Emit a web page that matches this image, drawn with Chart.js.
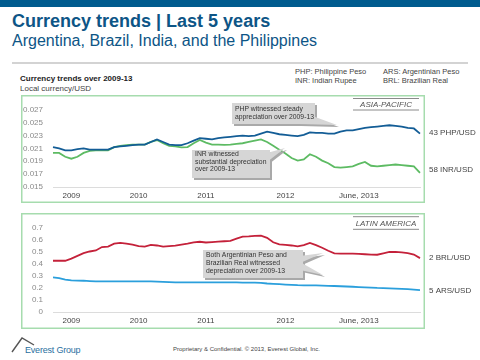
<!DOCTYPE html>
<html><head><meta charset="utf-8">
<script src="https://cdn.jsdelivr.net/npm/chart.js@4/dist/chart.umd.min.js"></script>
<style>
body{margin:0;width:480px;height:360px;position:relative;overflow:hidden;background:#fff;font-family:"Liberation Sans",Arial,sans-serif;}
.abs{position:absolute;white-space:nowrap;line-height:1;}
canvas{position:absolute;}
</style></head><body>
<div class="abs" style="left:0;top:0;width:480px;height:7px;background:#005b8e"></div>
<div class="abs" style="left:12px;top:11.8px;font-size:18px;font-weight:bold;color:#0d5586">Currency trends | Last 5 years</div>
<div class="abs" style="left:12px;top:32.5px;font-size:16px;color:#0d5586">Argentina, Brazil, India, and the Philippines</div>
<div class="abs" style="left:12px;top:62px;width:456px;height:2px;background:#d3d3d3"></div>
<div class="abs" style="left:295px;top:67.6px;font-size:7.5px;color:#444">PHP: Philippine Peso</div>
<div class="abs" style="left:295px;top:76.6px;font-size:7.5px;color:#444">INR: Indian Rupee</div>
<div class="abs" style="left:383px;top:67.6px;font-size:7.5px;color:#444">ARS: Argentinian Peso</div>
<div class="abs" style="left:383px;top:76.6px;font-size:7.5px;color:#444">BRL: Brazilian Real</div>
<div class="abs" style="left:20px;top:74.7px;font-size:8px;font-weight:bold;color:#222">Currency trends over 2009-13</div>
<div class="abs" style="left:20px;top:84.7px;font-size:8px;color:#444">Local currency/USD</div>
<canvas id="c1" width="459" height="108" style="left:21px;top:95px;width:459px;height:108px"></canvas>
<canvas id="c2" width="459" height="116" style="left:21px;top:213px;width:459px;height:116px"></canvas>
<svg class="abs" style="left:0;top:330px" width="60" height="30"><polyline points="12,22 22,8 34,15" fill="none" stroke="#555" stroke-width="1.4"/></svg>
<div class="abs" style="left:25px;top:345.5px;font-size:9px;color:#2a6fa0;letter-spacing:-0.2px">Everest Group</div>
<div class="abs" style="left:173px;top:346.4px;font-size:6px;color:#444">Proprietary &amp; Confidential. © 2013, Everest Global, Inc.</div>
<script>
const categories = ['Oct 2008','Nov 2008','Dec 2008',
'Jan 2009','Feb 2009','Mar 2009','Apr 2009','May 2009','Jun 2009','Jul 2009','Aug 2009','Sep 2009','Oct 2009','Nov 2009','Dec 2009',
'Jan 2010','Feb 2010','Mar 2010','Apr 2010','May 2010','Jun 2010','Jul 2010','Aug 2010','Sep 2010','Oct 2010','Nov 2010','Dec 2010',
'Jan 2011','Feb 2011','Mar 2011','Apr 2011','May 2011','Jun 2011','Jul 2011','Aug 2011','Sep 2011','Oct 2011','Nov 2011','Dec 2011',
'Jan 2012','Feb 2012','Mar 2012','Apr 2012','May 2012','Jun 2012','Jul 2012','Aug 2012','Sep 2012','Oct 2012','Nov 2012','Dec 2012',
'Jan 2013','Feb 2013','Mar 2013','Apr 2013','May 2013','Jun 2013','Jul 2013','Aug 2013','Sep 2013','Oct 2013'];
const xTickCategories = ['Jan 2009','Dec 2009','Nov 2010','Dec 2011','Dec 2012'];
const xTickLabels = ['2009','2010','2011','2012','June, 2013'];

const php = [0.0212,0.0210,0.0207,0.0207,0.0209,0.0210,0.0208,0.0208,0.0208,0.0208,
0.0212,0.0213,0.0214,0.0215,0.0216,0.0216,0.0220,0.0224,0.0220,0.0216,
0.0215,0.0215,0.0218,0.0222,0.0226,0.0225,0.0224,0.0226,0.0227,0.0228,
0.0229,0.0230,0.0229,0.0230,0.0233,0.0236,0.0234,0.0232,0.0231,0.0230,
0.0229,0.0231,0.0235,0.0234,0.0234,0.0233,0.0233,0.0236,0.0238,0.0238,
0.0240,0.0242,0.0243,0.0244,0.0245,0.0246,0.0245,0.0244,0.0242,0.0241,0.0233];
const inr = [0.0203,0.0203,0.0197,0.0194,0.0197,0.0203,0.0206,0.0207,0.0207,0.0207,
0.0212,0.0214,0.0215,0.0216,0.0216,0.0216,0.0220,0.0223,0.0218,0.0214,
0.0213,0.02115,0.0212,0.0218,0.0223,0.0219,0.0216,0.0216,0.02155,0.0216,
0.0217,0.0218,0.0220,0.0222,0.0224,0.0220,0.0214,0.0208,0.0202,0.0195,
0.0191,0.0193,0.0201,0.0197,0.0191,0.0187,0.0181,0.0180,0.0181,0.0182,
0.0186,0.0189,0.0183,0.0182,0.0183,0.0184,0.0185,0.0184,0.0183,0.0182,0.0172];
const brl = [0.426,0.426,0.426,0.444,0.466,0.489,0.503,0.512,0.540,0.544,
0.568,0.574,0.569,0.561,0.548,0.544,0.558,0.553,0.544,0.548,
0.552,0.561,0.568,0.578,0.584,0.578,0.581,0.585,0.588,0.591,
0.610,0.626,0.628,0.633,0.634,0.617,0.580,0.562,0.558,0.553,
0.546,0.556,0.574,0.556,0.534,0.509,0.488,0.486,0.486,0.485,
0.483,0.480,0.477,0.476,0.487,0.499,0.500,0.495,0.490,0.478,0.448];
const ars = [0.288,0.281,0.270,0.263,0.261,0.260,0.257,0.255,0.255,0.255,
0.255,0.255,0.255,0.255,0.255,0.255,0.254,0.252,0.250,0.248,
0.247,0.247,0.247,0.247,0.247,0.247,0.247,0.246,0.246,0.246,
0.246,0.245,0.245,0.245,0.242,0.237,0.234,0.231,0.228,0.226,
0.223,0.222,0.222,0.222,0.220,0.218,0.216,0.214,0.212,0.210,
0.207,0.205,0.203,0.200,0.199,0.197,0.195,0.193,0.190,0.186,0.181];

const endLabelsTop = ['43 PHP/USD','58 INR/USD'];
const endLabelsBottom = ['2 BRL/USD','5 ARS/USD'];

const FONT = '"Liberation Sans", Arial, sans-serif';

function roundBoxCallout(ctx, box, wedges, lines, fs, lh){
  ctx.save();
  ctx.fillStyle = '#a9a9a9';
  ctx.fillRect(box[0]+2, box[1]+2, box[2], box[3]);
  wedges.forEach(w=>{ctx.beginPath();ctx.moveTo(w[0][0]+2,w[0][1]+2);for(let i=1;i<w.length;i++)ctx.lineTo(w[i][0]+2,w[i][1]+2);ctx.closePath();ctx.fill();});
  ctx.fillStyle = '#d6d6d6';
  wedges.forEach(w=>{ctx.beginPath();ctx.moveTo(w[0][0],w[0][1]);for(let i=1;i<w.length;i++)ctx.lineTo(w[i][0],w[i][1]);ctx.closePath();ctx.fill();});
  ctx.fillRect(box[0], box[1], box[2], box[3]);
  ctx.fillStyle = '#333';
  ctx.font = fs + 'px ' + FONT;
  ctx.textAlign = 'left';
  ctx.textBaseline = 'alphabetic';
  lines.forEach((t,i)=>ctx.fillText(t, box[0]+3, box[1]+ lh*(i+1) - 1));
  ctx.restore();
}

function panelPlugin(opts){
  return {
    id:'panel'+opts.name,
    afterDatasetsDraw(chart){
      const ctx = chart.ctx;
      const H = chart.height;
      ctx.save();
      ctx.strokeStyle = '#a6dcae';
      ctx.lineWidth = 1.5;
      ctx.strokeRect(0.75, 0.75, 402.5, H-1.5);
      ctx.strokeStyle = '#8a8a8a';
      ctx.lineWidth = 1;
      ctx.beginPath();
      ctx.moveTo(332, opts.lblTop); ctx.lineTo(398, opts.lblTop);
      ctx.moveTo(332, opts.lblBot); ctx.lineTo(398, opts.lblBot);
      ctx.stroke();
      ctx.fillStyle = '#555';
      ctx.font = 'italic 8px ' + FONT;
      ctx.textAlign = 'center';
      ctx.textBaseline = 'middle';
      ctx.fillText(opts.region, 365, (opts.lblTop+opts.lblBot)/2 + 0.5);
      ctx.font = '8px ' + FONT;
      ctx.textAlign = 'left';
      ctx.fillStyle = '#444';
      chart.data.datasets.forEach((ds,i)=>{
        const meta = chart.getDatasetMeta(i);
        const last = meta.data[meta.data.length-1];
        ctx.fillText(opts.endLabels[i], 408, last.y + (opts.endShift[i]||0));
      });
      ctx.restore();
      opts.callouts.forEach(c=>roundBoxCallout(ctx, c.box, c.wedges, c.lines, c.fs, c.lh));
    }
  };
}

function makeChart(id, datasets, yOpts, plugin, xH, padTop){
  return new Chart(document.getElementById(id), {
    type:'line',
    data:{labels:categories, datasets},
    options:{
      responsive:false, animation:false, devicePixelRatio:1,
      layout:{padding:{top:padTop,right:60,left:0,bottom:0}},
      plugins:{legend:{display:false},tooltip:{enabled:false}},
      elements:{point:{radius:0},line:{tension:0,borderWidth:1.8}},
      scales:{
        x:{
          grid:{display:false,drawTicks:false},
          border:{display:true,color:'#dcdcdc',width:1},
          afterFit(s){s.height = xH;},
          ticks:{autoSkip:false,maxRotation:0,minRotation:0,padding:4,color:'#444',font:{family:FONT,size:8},
            callback(v){const c=categories[v];const k=xTickCategories.indexOf(c);return k>=0?xTickLabels[k]:'';}}
        },
        y:Object.assign({
          grid:{display:false,drawTicks:false},
          border:{display:false},
          afterFit(s){s.width = 32;},
        }, yOpts)
      }
    },
    plugins:[plugin]
  });
}

makeChart('c1', [
  {data:php, borderColor:'#135d96'},
  {data:inr, borderColor:'#5dbb63'}
], {min:0.015,max:0.027,
   ticks:{autoSkip:false,stepSize:0.002,padding:10,color:'#8a8a8a',font:{family:FONT,size:8},callback:v=>v.toFixed(3)}},
 panelPlugin({name:'a', region:'ASIA-PACIFIC', lblTop:3.5, lblBot:15, endLabels:endLabelsTop, endShift:[-1,-3],
   callouts:[
     {box:[211,8,83,21], wedges:[[[286,19],[316,30],[278,29]]], lines:['PHP witnessed steady','appreciation over 2009-13'], fs:6.8, lh:8.5},
     {box:[171,55,78,28], wedges:[[[246,58],[264,53],[246,67]]], lines:['INR witnessed','substantial depreciation','over 2009-13'], fs:6.8, lh:7.4}
   ]}), 16, 12);

makeChart('c2', [
  {data:brl, borderColor:'#c4213a'},
  {data:ars, borderColor:'#2b9fdc'}
], {min:0,max:0.7,
   ticks:{autoSkip:false,stepSize:0.1,padding:10,color:'#8a8a8a',font:{family:FONT,size:8},callback:v=>v===0?'0':v.toFixed(1)}},
 panelPlugin({name:'b', region:'LATIN AMERICA', lblTop:3.7, lblBot:16.3, endLabels:endLabelsBottom, endShift:[0,1],
   callouts:[
     {box:[182,37,100,28], wedges:[[[279,43],[302,40],[279,50]],[[279,49],[302,62],[279,57]]], lines:['Both Argentinian Peso and','Brazilian Real witnessed','depreciation over 2009-13'], fs:6.8, lh:8}
   ]}), 17, 14);
</script>
</body></html>
